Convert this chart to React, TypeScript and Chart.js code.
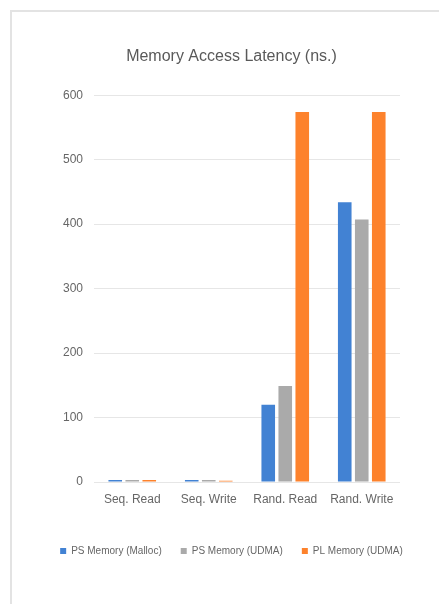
import React, { useEffect, useRef } from "react";
import { Chart, registerables } from "chart.js";

Chart.register(...registerables);

const categories = ["Seq. Read", "Seq. Write", "Rand. Read", "Rand. Write"];
const psMalloc = [3, 3, 120, 434];
const psUdma = [3, 3, 149, 407];
const plUdma = [3, 2, 574, 574];
const yTicks = [0, 100, 200, 300, 400, 500, 600];

const FONT = "'Liberation Sans', Arial, Helvetica, sans-serif";

export default function App() {
  const ref = useRef<HTMLCanvasElement | null>(null);

  useEffect(() => {
    document.body.style.margin = "0";
    const canvas = ref.current;
    if (!canvas) return;
    const chart = new Chart(canvas, {
      type: "bar",
      data: {
        labels: categories,
        datasets: [
          { label: "PS Memory (Malloc)", data: psMalloc, backgroundColor: "#4282d3" },
          { label: "PS Memory (UDMA)", data: psUdma, backgroundColor: "#aaaaaa" },
          { label: "PL Memory (UDMA)", data: plUdma, backgroundColor: "#fd822c" },
        ],
      },
      options: {
        animation: false,
        responsive: true,
        maintainAspectRatio: false,
        layout: { padding: { left: 24, right: 0, top: 47, bottom: 38 } },
        datasets: {
          bar: { categoryPercentage: 0.667, barPercentage: 0.8 },
        },
        plugins: {
          title: {
            display: true,
            text: "Memory Access Latency (ns.)",
            color: "#595959",
            font: { family: FONT, size: 16, weight: "normal" },
            padding: { top: 0, bottom: 29 },
          },
          legend: {
            position: "bottom",
            labels: {
              color: "#666666",
              font: { family: FONT, size: 10 },
              boxWidth: 6,
              boxHeight: 6,
              padding: 19,
            },
          },
          tooltip: { enabled: false },
        },
        scales: {
          x: {
            grid: { display: false, drawTicks: false },
            border: { display: false },
            ticks: {
              color: "#666666",
              font: { family: FONT, size: 12 },
              padding: 10,
            },
            afterFit: (scale: any) => {
              scale.height = 45;
            },
          },
          y: {
            min: 0,
            max: 600,
            afterBuildTicks: (scale: any) => {
              scale.ticks = yTicks.map((v) => ({ value: v }));
            },
            afterFit: (scale: any) => {
              scale.width = 70;
            },
            grid: { color: "#e6e6e6", lineWidth: 1, drawTicks: false },
            border: { display: false },
            ticks: {
              color: "#666666",
              font: { family: FONT, size: 12 },
              padding: 11,
            },
          },
          yRightSpace: {
            type: "linear",
            position: "right",
            display: true,
            grid: { display: false, drawTicks: false },
            border: { display: false },
            ticks: { display: false },
            afterFit: (scale: any) => {
              scale.width = 39;
            },
          },
        },
      },
    });
    return () => chart.destroy();
  }, []);

  return (
    <div style={{ position: "absolute", left: 0, top: 0, width: 439, height: 604, background: "#fff", overflow: "hidden" }}>
      <div
        style={{
          position: "absolute",
          left: 10,
          top: 10,
          width: 440,
          height: 610,
          borderTop: "2px solid #e3e3e3",
          borderLeft: "2px solid #e3e3e3",
        }}
      />
      <canvas ref={ref} style={{ position: "absolute", left: 0, top: 0, width: 439, height: 604 }} />
    </div>
  );
}
